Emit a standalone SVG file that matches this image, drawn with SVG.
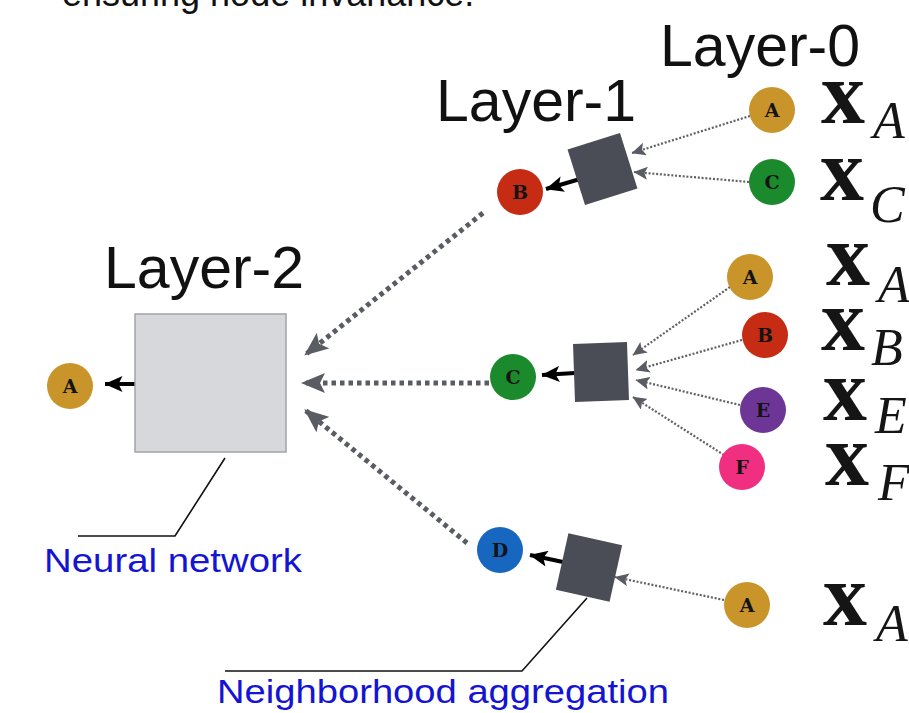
<svg xmlns="http://www.w3.org/2000/svg" width="909" height="713" viewBox="0 0 909 713">
  <style>
    .title { font-family: "Liberation Sans", Arial, sans-serif; font-size: 59px; fill: #111; }
    .caption { font-family: "Liberation Sans", Arial, sans-serif; font-size: 36px; fill: #111; }
    .note { font-family: "Liberation Sans", Arial, sans-serif; font-size: 34px; fill: #1414D2; }
    .lbl { font-family: "DejaVu Serif", "Liberation Serif", serif; font-size: 19px; font-weight: bold; fill: #141414; text-anchor: middle; }
    .mx { font-family: "Liberation Serif", "Times New Roman", serif; font-size: 88px; font-weight: bold; fill: #151515; }
    .ms { font-family: "Liberation Serif", "Times New Roman", serif; font-size: 52px; font-weight: normal; font-style: italic; fill: #151515; }
    .agg { fill: #4A4D55; }
    .nn { fill: #D7D8DC; stroke: #A3A4A9; stroke-width: 1.5; }
    .thick { stroke: #5A5C63; stroke-width: 5; stroke-dasharray: 4.5 4; fill: none; marker-end: url(#bigHead); }
    .thin { stroke: #5E6066; stroke-width: 2.2; stroke-dasharray: 2 1.8; fill: none; marker-end: url(#smallHead); }
    .solid { stroke: #000; stroke-width: 4; fill: none; marker-end: url(#blackHead); }
    .leader { stroke: #111; stroke-width: 1.6; fill: none; }
    .gold { fill: #C9952B; }
    .red { fill: #C62B14; }
    .green { fill: #1B8A2D; }
    .blue { fill: #1766C0; }
    .purple { fill: #6C3596; }
    .pink { fill: #F02F80; }
  </style>
  <defs>
    <marker id="bigHead" markerUnits="userSpaceOnUse" viewBox="0 0 24 20" refX="23" refY="10" markerWidth="24" markerHeight="20" orient="auto">
      <path d="M0,0 L24,10 L0,20 L5,10 Z" fill="#5A5C63"/>
    </marker>
    <marker id="smallHead" markerUnits="userSpaceOnUse" viewBox="0 0 14 13" refX="13.5" refY="6.5" markerWidth="14" markerHeight="13" orient="auto">
      <path d="M0,0 L14,6.5 L0,13 L3,6.5 Z" fill="#5A5C63"/>
    </marker>
    <marker id="blackHead" markerUnits="userSpaceOnUse" viewBox="0 0 18 16" refX="17.5" refY="8" markerWidth="18" markerHeight="16" orient="auto">
      <path d="M0,0 L18,8 L0,16 L4,8 Z" fill="#000"/>
    </marker>
  </defs>

  <rect width="909" height="713" fill="#fff"/>

  <!-- caption line running off the top edge -->
  <text class="caption" x="62" y="6">ensuring node invariance.</text>

  <!-- layer headings -->
  <text class="title" x="660" y="66">Layer-0</text>
  <text class="title" x="436" y="121">Layer-1</text>
  <text class="title" x="104" y="288">Layer-2</text>

  <!-- connectors -->
  <g id="connectors">
    <!-- layer-1 to layer-2 -->
    <line class="thick" x1="483" y1="213" x2="305" y2="355"/>
    <line class="thick" x1="489" y1="383" x2="302" y2="383"/>
    <line class="thick" x1="467" y1="543" x2="305" y2="410"/>
    <!-- layer-0 to top aggregator -->
    <line class="thin" x1="750" y1="116" x2="632" y2="153"/>
    <line class="thin" x1="749" y1="182" x2="634" y2="172"/>
    <!-- layer-0 to middle aggregator -->
    <line class="thin" x1="730" y1="287" x2="633" y2="355"/>
    <line class="thin" x1="742" y1="340" x2="636" y2="370"/>
    <line class="thin" x1="740" y1="405" x2="636" y2="380"/>
    <line class="thin" x1="724" y1="455" x2="633" y2="397"/>
    <!-- layer-0 to bottom aggregator -->
    <line class="thin" x1="724" y1="600" x2="615" y2="577"/>
    <!-- aggregator outputs -->
    <line class="solid" x1="580" y1="179" x2="546" y2="189"/>
    <line class="solid" x1="575" y1="373" x2="542" y2="375"/>
    <line class="solid" x1="563" y1="562" x2="530" y2="555"/>
    <line class="solid" x1="136" y1="384" x2="105" y2="384"/>
    <!-- callout leaders -->
    <polyline class="leader" points="225,458 175,536 78,536"/>
    <polyline class="leader" points="587,598 522,671 225,671"/>
  </g>

  <!-- layer-2 network -->
  <g id="nn-layer2">
    <rect class="nn" x="135" y="314" width="151" height="138"/>
  </g>

  <!-- aggregators -->
  <g id="agg-top">
    <rect class="agg" x="-27.5" y="-29" width="55" height="58" transform="translate(602.5 169) rotate(-17.5)"/>
  </g>
  <g id="agg-mid">
    <rect class="agg" x="-27" y="-29" width="54" height="58" transform="translate(601 372) rotate(-2)"/>
  </g>
  <g id="agg-bot">
    <rect class="agg" x="-27.5" y="-29" width="55" height="58" transform="translate(589 567.5) rotate(12.5)"/>
  </g>

  <!-- output node -->
  <g id="out-A">
    <circle class="gold" cx="70" cy="386" r="23"/>
    <text class="lbl" x="70" y="393">A</text>
  </g>

  <!-- layer-1 nodes -->
  <g id="l1-B">
    <circle class="red" cx="520" cy="192" r="23"/>
    <text class="lbl" x="520" y="199">B</text>
  </g>
  <g id="l1-C">
    <circle class="green" cx="513" cy="377" r="23"/>
    <text class="lbl" x="513" y="384">C</text>
  </g>
  <g id="l1-D">
    <circle class="blue" cx="500" cy="550" r="23"/>
    <text class="lbl" x="500" y="557">D</text>
  </g>

  <!-- layer-0 nodes -->
  <g id="l0-A1">
    <circle class="gold" cx="772" cy="110" r="23"/>
    <text class="lbl" x="772" y="117">A</text>
  </g>
  <g id="l0-C">
    <circle class="green" cx="772" cy="182" r="23"/>
    <text class="lbl" x="772" y="189">C</text>
  </g>
  <g id="l0-A2">
    <circle class="gold" cx="750" cy="277" r="23"/>
    <text class="lbl" x="750" y="284">A</text>
  </g>
  <g id="l0-B">
    <circle class="red" cx="765" cy="335" r="23"/>
    <text class="lbl" x="765" y="342">B</text>
  </g>
  <g id="l0-E">
    <circle class="purple" cx="763" cy="410" r="23"/>
    <text class="lbl" x="763" y="417">E</text>
  </g>
  <g id="l0-F">
    <circle class="pink" cx="742" cy="467" r="23"/>
    <text class="lbl" x="742" y="474">F</text>
  </g>
  <g id="l0-A3">
    <circle class="gold" cx="747" cy="605" r="23"/>
    <text class="lbl" x="747" y="612">A</text>
  </g>

  <!-- feature vectors: bold x with italic subscript -->
  <g id="features">
    <text class="mx" x="821" y="123">x<tspan class="ms" dx="8" dy="15">A</tspan></text>
    <text class="mx" x="820" y="200">x<tspan class="ms" dx="6" dy="22">C</tspan></text>
    <text class="mx" x="826" y="285">x<tspan class="ms" dx="8" dy="17">A</tspan></text>
    <text class="mx" x="821" y="350">x<tspan class="ms" dx="6" dy="15">B</tspan></text>
    <text class="mx" x="823" y="420">x<tspan class="ms" dx="8" dy="13">E</tspan></text>
    <text class="mx" x="825" y="485">x<tspan class="ms" dx="9" dy="15">F</tspan></text>
    <text class="mx" x="823" y="625">x<tspan class="ms" dx="9" dy="16">A</tspan></text>
  </g>

  <!-- callout captions -->
  <text class="note" x="44" y="572" textLength="258" lengthAdjust="spacingAndGlyphs">Neural network</text>
  <text class="note" x="217" y="703" textLength="452" lengthAdjust="spacingAndGlyphs">Neighborhood aggregation</text>
</svg>
